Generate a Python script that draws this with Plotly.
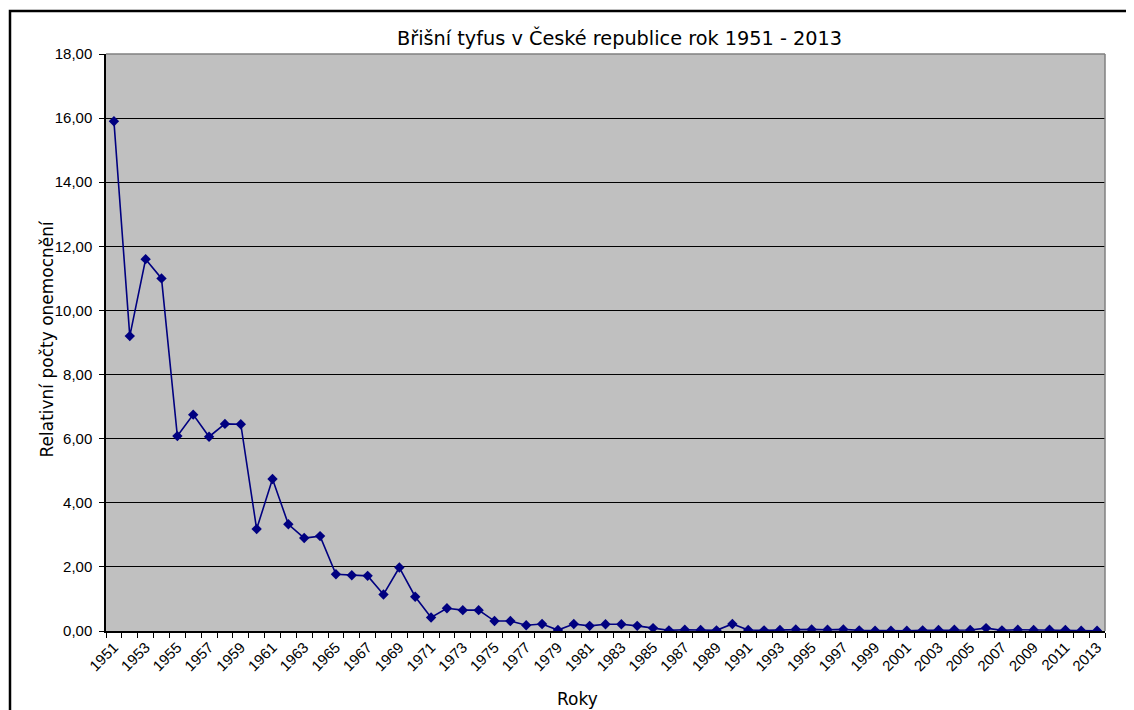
import plotly.graph_objects as go

YEARS = list(range(1951, 2014))
RATES = [
    15.90, 9.20, 11.60, 11.00, 6.08, 6.75, 6.06, 6.46, 6.45, 3.18,
    4.74, 3.33, 2.90, 2.96, 1.77, 1.74, 1.72, 1.14, 1.98, 1.07,
    0.42, 0.71, 0.65, 0.65, 0.31, 0.31, 0.18, 0.22, 0.03, 0.22,
    0.16, 0.21, 0.21, 0.16, 0.09, 0.02, 0.04, 0.03, 0.02, 0.22,
    0.03, 0.02, 0.03, 0.05, 0.05, 0.04, 0.05, 0.02, 0.01, 0.01,
    0.01, 0.02, 0.03, 0.04, 0.03, 0.09, 0.02, 0.04, 0.03, 0.04,
    0.03, 0.01, 0.01,
]
LABEL_YEARS = YEARS[::2]

NAVY = "#000080"
FONT = "DejaVu Sans"
TICKFONT = "Liberation Sans"

fig = go.Figure(go.Scatter(
    x=YEARS, y=RATES, mode="lines+markers",
    line=dict(color=NAVY, width=1.6),
    marker=dict(symbol="diamond", size=8, color=NAVY),
))

# page body adds an 8px offset, so the figure is 8px smaller than the window
fig.update_layout(
    width=1126, height=702,
    margin=dict(l=98, r=29, t=46, b=79),
    paper_bgcolor="white", plot_bgcolor="#C0C0C0",
    separators=", ",
    showlegend=False,
    xaxis=dict(
        range=[1950.5, 2013.5],
        tickmode="array", tickvals=LABEL_YEARS, ticktext=[str(y) for y in LABEL_YEARS],
        tickangle=-45, ticks="", ticklen=0,
        tickfont=dict(family=TICKFONT, size=15, color="black"),
        minor=dict(tick0=1950.5, dtick=1, ticks="outside", ticklen=5, tickcolor="black", showgrid=False),
        showgrid=False, zeroline=False,
        showline=True, linecolor="black", linewidth=1.5,
    ),
    yaxis=dict(
        range=[0, 18], dtick=2, tickformat=".2f",
        ticks="outside", ticklen=5, tickcolor="black",
        tickfont=dict(family=TICKFONT, size=15, color="black"),
        ticklabelstandoff=4,
        showgrid=True, gridcolor="black", gridwidth=1,
        zeroline=False,
        showline=True, linecolor="black", linewidth=1.5,
    ),
    annotations=[
        dict(text="Břišní tyfus v České republice rok 1951 - 2013",
             x=0.514, y=1.028, xref="paper", yref="paper",
             xanchor="center", yanchor="middle", showarrow=False,
             font=dict(family=FONT, size=19.3, color="black")),
        dict(text="Relativní počty onemocnění",
             x=-0.059, y=0.507, xref="paper", yref="paper", textangle=-90,
             xanchor="center", yanchor="middle", showarrow=False,
             font=dict(family=FONT, size=17, color="black")),
        dict(text="Roky",
             x=0.472, y=-0.118, xref="paper", yref="paper",
             xanchor="center", yanchor="middle", showarrow=False,
             font=dict(family=FONT, size=17, color="black")),
    ],
    shapes=[
        dict(type="line", xref="paper", yref="paper", x0=0, x1=1, y0=1, y1=1,
             line=dict(color="#808080", width=1.5)),
        dict(type="line", xref="paper", yref="paper", x0=1, x1=1, y0=0, y1=1,
             line=dict(color="#808080", width=1.5)),
        dict(type="rect", xref="paper", yref="paper",
             x0=-0.0961, x1=1.023, y0=-0.2, y1=1.0745,
             line=dict(color="black", width=2.5)),
    ],
)

fig.write_html("out.html")
